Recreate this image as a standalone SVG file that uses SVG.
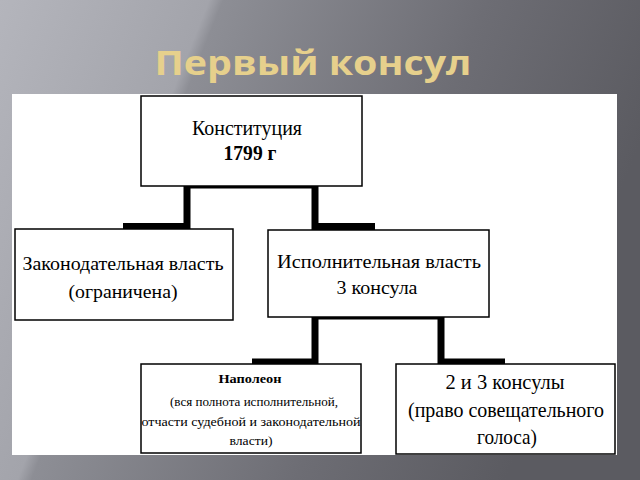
<svg xmlns="http://www.w3.org/2000/svg" width="640" height="480" viewBox="0 0 640 480">
<defs>
<linearGradient id="bg" x1="0" y1="0" x2="1" y2="0.3">
<stop offset="0" stop-color="#b4b5bc"/>
<stop offset="0.3" stop-color="#a3a4ab"/>
<stop offset="0.32" stop-color="#8d8e95"/>
<stop offset="0.7" stop-color="#6d6d74"/>
<stop offset="1" stop-color="#5b5b61"/>
</linearGradient>
<style>
.box{fill:#fff;stroke:#000;stroke-width:1.5}
.t{font-family:"Liberation Serif","DejaVu Serif",serif;fill:#000;text-anchor:middle}
.c{fill:none;stroke:#000;stroke-width:7;stroke-linejoin:miter}
</style>
</defs>
<rect x="0" y="0" width="640" height="480" fill="url(#bg)"/>
<text x="313" y="75" font-family="'Open Sans','Noto Sans','DejaVu Sans',sans-serif" font-weight="bold" font-size="34" fill="#e6d08c" text-anchor="middle" textLength="317" lengthAdjust="spacingAndGlyphs">Первый консул</text>
<rect x="12" y="94" width="605" height="361" fill="#fff"/>
<g id="connectors">
<path class="c" d="M123 226.5H187V185H315V226.5H375"/>
<path class="c" d="M252 362H315V316H441V362H505"/>
</g>
<g id="constitution">
<rect class="box" x="141" y="96" width="221" height="90"/>
<text class="t" x="247" y="135" font-size="21" textLength="110" lengthAdjust="spacingAndGlyphs">Конституция</text>
<text class="t" x="250" y="160" font-size="21" font-weight="bold" textLength="53" lengthAdjust="spacingAndGlyphs">1799 г</text>
</g>
<g id="legislative">
<rect class="box" x="15" y="229" width="218" height="91"/>
<text class="t" x="123" y="270" font-size="19" textLength="201" lengthAdjust="spacingAndGlyphs">Законодательная власть</text>
<text class="t" x="123" y="298" font-size="19" textLength="109" lengthAdjust="spacingAndGlyphs">(ограничена)</text>
</g>
<g id="executive">
<rect class="box" x="268" y="230" width="221" height="87"/>
<text class="t" x="379" y="268" font-size="19" textLength="204" lengthAdjust="spacingAndGlyphs">Исполнительная власть</text>
<text class="t" x="377" y="294" font-size="19" textLength="81" lengthAdjust="spacingAndGlyphs">3 консула</text>
</g>
<g id="napoleon">
<rect class="box" x="141" y="364" width="220" height="89"/>
<text class="t" x="250" y="383" font-size="12" font-weight="bold" textLength="63" lengthAdjust="spacingAndGlyphs">Наполеон</text>
<text class="t" x="254" y="406" font-size="12" textLength="168" lengthAdjust="spacingAndGlyphs">(вся полнота исполнительной,</text>
<text class="t" x="251" y="426" font-size="12" textLength="219" lengthAdjust="spacingAndGlyphs">отчасти судебной и законодательной</text>
<text class="t" x="251" y="445" font-size="12" textLength="43" lengthAdjust="spacingAndGlyphs">власти)</text>
</g>
<g id="consuls23">
<rect class="box" x="396" y="364" width="219" height="90"/>
<text class="t" x="505" y="389" font-size="21" textLength="119" lengthAdjust="spacingAndGlyphs">2 и 3 консулы</text>
<text class="t" x="506" y="417" font-size="21" textLength="196" lengthAdjust="spacingAndGlyphs">(право совещательного</text>
<text class="t" x="507" y="444" font-size="21" textLength="60" lengthAdjust="spacingAndGlyphs">голоса)</text>
</g>
</svg>
